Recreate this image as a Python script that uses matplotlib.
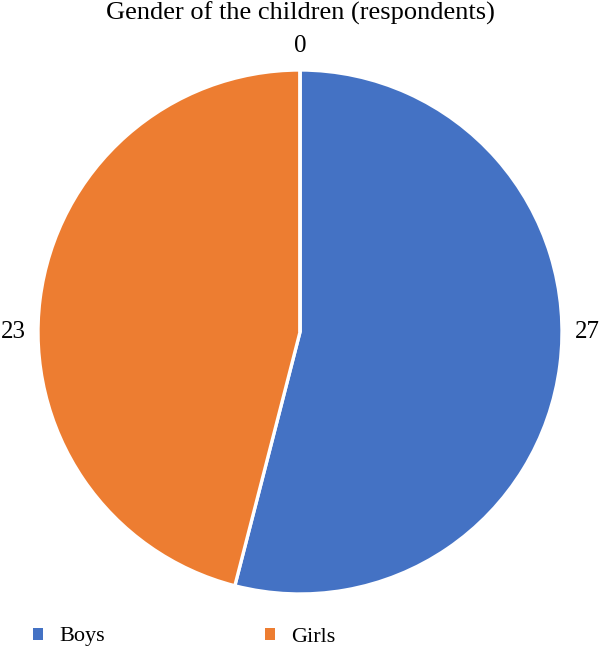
import matplotlib
matplotlib.use("Agg")
import matplotlib.pyplot as plt
from matplotlib.patches import Patch

plt.rcParams['font.family'] = ['Liberation Serif', 'DejaVu Serif']

title = "Gender of the children (respondents)"
categories = ["Boys", "Girls", ""]
values = [27, 23, 0]
colors = ["#4472C4", "#ED7D31", "#A5A5A5"]

W, H = 600, 656
fig = plt.figure(figsize=(W / 100, H / 100), dpi=100)

cx, cy, r = 300, 332, 262
ax = fig.add_axes([(cx - r) / W, 1 - (cy + r) / H, 2 * r / W, 2 * r / H])
wedges, _ = ax.pie(values, colors=colors, startangle=90, counterclock=False,
                   radius=1.0, wedgeprops=dict(edgecolor="white", linewidth=2.4))
ax.set_xlim(-1, 1)
ax.set_ylim(-1, 1)
ax.set_aspect("equal")
ax.axis("off")

# value labels (placed like the reference: right, left, top)
label_pos = [(1.095, 0.0), (-1.095, 0.0), (0.0, 1.09)]
for (lx, ly), v in zip(label_pos, values):
    ax.text(lx, ly, str(v), ha="center", va="center", fontsize=18, clip_on=False)

fig.text(0.5, 1 - 13 / H, title, ha="center", va="center", fontsize=19)

handles = [Patch(facecolor=c, edgecolor="none") for c in colors[:2]]
fig.legend(handles, categories[:2], loc="center left",
           bbox_to_anchor=(13 / W, 1 - 637 / H), ncol=2, frameon=False,
           fontsize=16, handlelength=0.45, handleheight=0.45,
           handletextpad=0.72, columnspacing=7.2)

fig.savefig("out.png", dpi=100)
